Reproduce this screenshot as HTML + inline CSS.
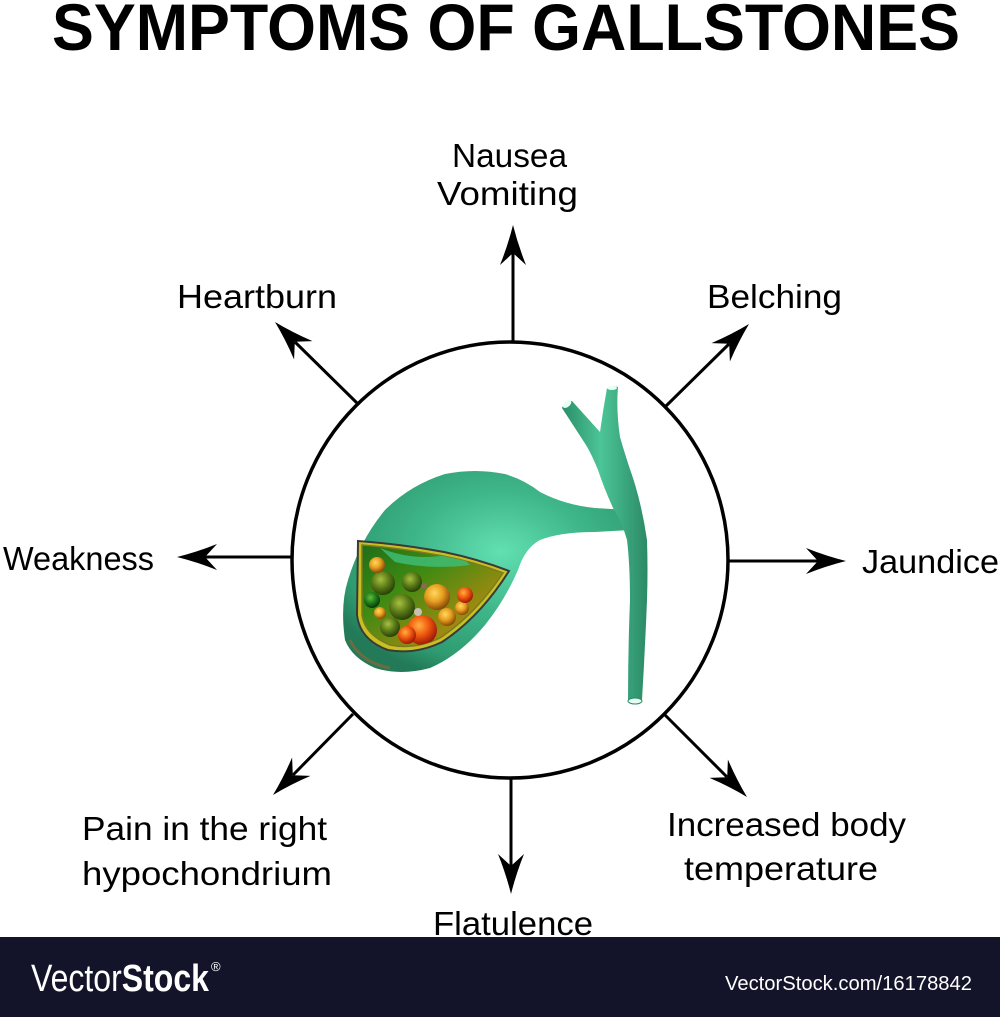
<!DOCTYPE html>
<html>
<head>
<meta charset="utf-8">
<style>
html,body{margin:0;padding:0;background:#fff;}
body{width:1000px;height:1017px;overflow:hidden;}
svg{display:block;}
text{font-family:"Liberation Sans",sans-serif;fill:#000;}
</style>
</head>
<body>
<svg width="1000" height="1017" viewBox="0 0 1000 1017" xmlns="http://www.w3.org/2000/svg">
<defs>
  <path id="ah" d="M0 0 Q-20 -5 -40 -13 L-28 0 L-40 13 Q-20 5 0 0Z" fill="#000"/>
  <radialGradient id="gbody" cx="0.55" cy="0.4" r="0.65">
    <stop offset="0" stop-color="#62e0b2"/>
    <stop offset="0.45" stop-color="#3fb78a"/>
    <stop offset="0.85" stop-color="#2e9a70"/>
    <stop offset="1" stop-color="#237a58"/>
  </radialGradient>
  <linearGradient id="gduct" x1="0" y1="0" x2="1" y2="0">
    <stop offset="0" stop-color="#2a8e68"/>
    <stop offset="0.45" stop-color="#4cc597"/>
    <stop offset="1" stop-color="#2b8a66"/>
  </linearGradient>
  <linearGradient id="gwin" x1="0" y1="0" x2="1" y2="1">
    <stop offset="0" stop-color="#1f6e1a"/>
    <stop offset="0.35" stop-color="#3f8a12"/>
    <stop offset="0.7" stop-color="#9a8a10"/>
    <stop offset="1" stop-color="#b07a10"/>
  </linearGradient>
  <radialGradient id="sOr" cx="0.4" cy="0.35" r="0.65">
    <stop offset="0" stop-color="#ffd860"/>
    <stop offset="0.5" stop-color="#e8a020"/>
    <stop offset="1" stop-color="#8a4a08"/>
  </radialGradient>
  <radialGradient id="sRed" cx="0.4" cy="0.35" r="0.65">
    <stop offset="0" stop-color="#ffb040"/>
    <stop offset="0.5" stop-color="#f05a10"/>
    <stop offset="1" stop-color="#a01808"/>
  </radialGradient>
  <radialGradient id="sGr" cx="0.4" cy="0.35" r="0.65">
    <stop offset="0" stop-color="#a8c040"/>
    <stop offset="0.55" stop-color="#5a7a18"/>
    <stop offset="1" stop-color="#2a4208"/>
  </radialGradient>
  <radialGradient id="sDg" cx="0.4" cy="0.35" r="0.65">
    <stop offset="0" stop-color="#60c040"/>
    <stop offset="0.55" stop-color="#1e7a18"/>
    <stop offset="1" stop-color="#0a3a08"/>
  </radialGradient>
  <clipPath id="winclip">
    <path d="M362 545 Q400 548 443 556 Q475 562 503 573 Q475 615 440 638 Q415 650 390 645 Q365 635 362 615 Z"/>
  </clipPath>
</defs>

<!-- Title -->
<text x="52" y="50" font-size="66" font-weight="bold" textLength="908" lengthAdjust="spacingAndGlyphs">SYMPTOMS OF GALLSTONES</text>

<!-- Circle -->
<circle cx="510" cy="560" r="218" fill="none" stroke="#000" stroke-width="3.5"/>

<!-- Arrows -->
<g stroke="#000" stroke-width="3" fill="none">
  <line x1="513" y1="341" x2="513" y2="253"/>
  <line x1="357" y1="403" x2="295" y2="342"/>
  <line x1="666" y1="406" x2="729" y2="344"/>
  <line x1="292" y1="557" x2="205" y2="557"/>
  <line x1="728" y1="561" x2="818" y2="561"/>
  <line x1="353" y1="714" x2="293" y2="775"/>
  <line x1="511" y1="777" x2="511" y2="866"/>
  <line x1="664" y1="714" x2="727" y2="777"/>
</g>
<use href="#ah" transform="translate(513 225) rotate(-90)"/>
<use href="#ah" transform="translate(275 322) rotate(-135)"/>
<use href="#ah" transform="translate(749 324) rotate(-45)"/>
<use href="#ah" transform="translate(177 557) rotate(180)"/>
<use href="#ah" transform="translate(846 561)"/>
<use href="#ah" transform="translate(273 795) rotate(135)"/>
<use href="#ah" transform="translate(511 894) rotate(90)"/>
<use href="#ah" transform="translate(747 797) rotate(45)"/>

<!-- Labels -->
<g font-size="33">
  <text x="452" y="167" textLength="115" lengthAdjust="spacingAndGlyphs">Nausea</text>
  <text x="437" y="205" textLength="141" lengthAdjust="spacingAndGlyphs">Vomiting</text>
  <text x="177" y="308" textLength="160" lengthAdjust="spacingAndGlyphs">Heartburn</text>
  <text x="707" y="308" textLength="135" lengthAdjust="spacingAndGlyphs">Belching</text>
  <text x="3" y="570" textLength="151" lengthAdjust="spacingAndGlyphs">Weakness</text>
  <text x="862" y="573" textLength="137" lengthAdjust="spacingAndGlyphs">Jaundice</text>
  <text x="82" y="840" textLength="245" lengthAdjust="spacingAndGlyphs">Pain in the right</text>
  <text x="82" y="885" textLength="250" lengthAdjust="spacingAndGlyphs">hypochondrium</text>
  <text x="667" y="836" textLength="239" lengthAdjust="spacingAndGlyphs">Increased body</text>
  <text x="684" y="880" textLength="194" lengthAdjust="spacingAndGlyphs">temperature</text>
  <text x="433" y="935" textLength="160" lengthAdjust="spacingAndGlyphs">Flatulence</text>
</g>

<!-- Gallbladder: body -->
<path d="M345 640 Q340 605 348 580 Q360 540 385 510 Q410 485 445 474 Q475 468 505 474 Q525 480 540 492 Q565 505 595 508 L628 510 L630 530 L595 532 Q560 532 540 540 Q525 548 518 570 Q505 600 485 625 Q460 655 430 668 Q400 676 375 668 Q352 658 345 640 Z" fill="url(#gbody)"/>
<path d="M350 640 Q360 662 390 668" fill="none" stroke="#b0602a" stroke-width="3" opacity="0.5"/>

<!-- Gallbladder: duct -->
<path d="M562 408 Q565 401 572 401 L600 432 Q603 410 607 388 Q612 385 618 387 Q616 410 620 437 Q626 458 632 475 Q642 505 647 540 Q648 570 647 600 Q645 650 642 700 L628 700 Q628 650 630 600 Q630 565 627 540 Q622 522 613 508 Q604 488 598 470 Q592 455 586 445 Z" fill="url(#gduct)"/>
<ellipse cx="567" cy="404" rx="5" ry="3" fill="#e8fff4" transform="rotate(-40 567 404)"/>
<ellipse cx="612" cy="388" rx="5" ry="2" fill="#e8fff4"/>
<ellipse cx="635" cy="701" rx="7" ry="3" fill="#e8fff4" stroke="#2a8e68" stroke-width="1"/>

<!-- Cutaway window -->
<path d="M358 541 Q400 544 444 552 Q478 559 509 571 Q480 617 442 642 Q415 655 388 650 Q360 640 357 615 Z" fill="#c8c020" stroke="#3a3a3a" stroke-width="2"/>
<path d="M362 545 Q400 548 443 556 Q475 562 503 573 Q475 615 440 638 Q415 650 390 645 Q365 635 362 615 Z" fill="url(#gwin)" stroke="#7a7a20" stroke-width="1.5"/>
<g clip-path="url(#winclip)">
  <path d="M380 548 Q410 560 440 556 Q460 553 470 565 Q430 570 395 562 Z" fill="#3fbf7a" opacity="0.8"/>
  <circle cx="383" cy="583" r="12" fill="url(#sGr)"/>
  <circle cx="412" cy="582" r="10" fill="url(#sGr)"/>
  <circle cx="377" cy="565" r="8" fill="url(#sOr)"/>
  <circle cx="372" cy="600" r="8" fill="url(#sDg)"/>
  <circle cx="390" cy="627" r="10" fill="url(#sGr)"/>
  <circle cx="402" cy="607" r="13" fill="url(#sGr)"/>
  <circle cx="380" cy="613" r="6" fill="url(#sOr)"/>
  <circle cx="447" cy="617" r="9" fill="url(#sOr)"/>
  <circle cx="437" cy="597" r="13" fill="url(#sOr)"/>
  <circle cx="462" cy="608" r="7" fill="url(#sOr)"/>
  <circle cx="465" cy="595" r="8" fill="url(#sRed)"/>
  <circle cx="422" cy="630" r="15" fill="url(#sRed)"/>
  <circle cx="407" cy="635" r="9" fill="url(#sRed)"/>
  <circle cx="418" cy="612" r="4" fill="#c8c0b0"/>
  <circle cx="424" cy="586" r="3" fill="#8a6a50"/>
</g>

<!-- Footer -->
<rect x="0" y="937" width="1000" height="80" fill="#13142a"/>
<text x="31" y="991" font-size="38" textLength="178" lengthAdjust="spacingAndGlyphs" style="fill:#fff"><tspan font-weight="normal">Vector</tspan><tspan font-weight="bold">Stock</tspan></text>
<text x="211" y="971" font-size="13" style="fill:#fff">®</text>
<text x="725" y="990" font-size="20" textLength="247" lengthAdjust="spacingAndGlyphs" style="fill:#fff">VectorStock.com/16178842</text>
</svg>
</body>
</html>
